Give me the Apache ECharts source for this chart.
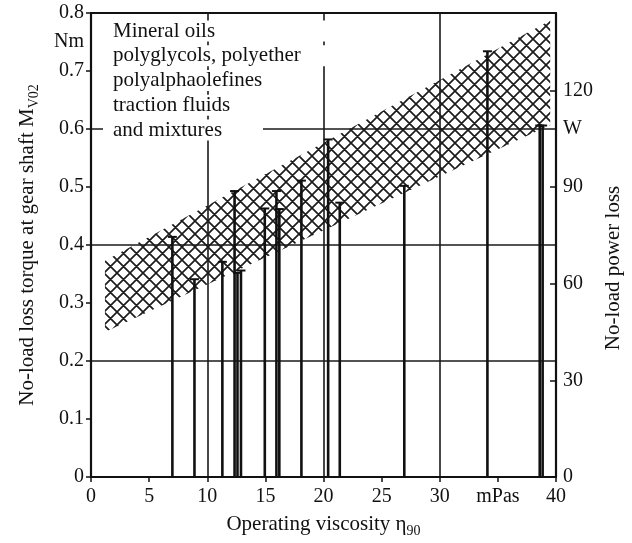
<!DOCTYPE html>
<html><head><meta charset="utf-8">
<script src="https://cdn.jsdelivr.net/npm/echarts@6/dist/echarts.min.js"></script>
<style>html,body{margin:0;padding:0;background:#fff}#c{width:632px;height:543px}</style>
</head><body><div id="c"></div>
<script>
// ---- data ----
const viscosity = [7.0, 8.9, 11.3, 12.35, 12.6, 12.9, 14.95, 15.95, 16.2, 18.1, 20.4, 21.4, 26.95, 34.1, 38.6, 38.85];
const torque    = [0.414, 0.341, 0.371, 0.493, 0.352, 0.356, 0.463, 0.493, 0.462, 0.511, 0.582, 0.473, 0.502, 0.734, 0.606, 0.606];
const bandViscosity = [1.2, 39.5];
const bandLower     = [0.25, 0.607];
const bandUpper     = [0.373, 0.787];
const xTickLabels = ['0', '5', '10', '15', '20', '25', '30', 'mPas', '40'];
const torqueTickLabels = ['0', '0.1', '0.2', '0.3', '0.4', '0.5', '0.6', '0.7', '0.8'];
const powerTickLabels = ['0', '30', '60', '90', '120'];
const fluidLines = ['Mineral oils', 'polyglycols, polyether', 'polyalphaolefines', 'traction fluids', 'and mixtures'];

const FONT = '"Liberation Serif", "Times New Roman", serif';
const INK = '#111';

function hatchCanvas() {
  const s = 13, c = document.createElement('canvas');
  c.width = s; c.height = s;
  const g = c.getContext('2d');
  g.strokeStyle = '#1c1c1c'; g.lineWidth = 1.7;
  g.beginPath();
  for (const o of [-s, 0, s]) {
    g.moveTo(o, 0); g.lineTo(o + s, s);
    g.moveTo(o + s, 0); g.lineTo(o, s);
  }
  g.stroke();
  return c;
}
const hatch = { image: hatchCanvas(), repeat: 'repeat' };

const chart = echarts.init(document.getElementById('c'), null, { renderer: 'canvas' });

const bandData = bandViscosity.slice(0, -1).map((x, i) =>
  [x, bandLower[i], bandUpper[i], bandViscosity[i + 1], bandLower[i + 1], bandUpper[i + 1]]);
const barData = viscosity.map((x, i) => [x, torque[i]]);

const txt = { fontFamily: FONT, fontSize: 20, color: INK };

chart.setOption({
  animation: false,
  backgroundColor: '#fff',
  grid: { left: 91, right: 76, top: 13, bottom: 66, containLabel: false, outerBoundsMode: 'none' },
  xAxis: [
    {
      type: 'value', position: 'bottom', min: 0, max: 40, interval: 5,
      axisLine: { show: true, onZero: false, lineStyle: { color: INK, width: 2 } },
      axisTick: { show: true, inside: false, length: 5, lineStyle: { color: INK, width: 1.5 } },
      axisLabel: Object.assign({ margin: 10, formatter: v => xTickLabels[Math.round(v / 5)] || '' }, txt),
      splitLine: { show: false },
      name: '{n|Operating viscosity η}{s|90}', nameLocation: 'middle', nameGap: 33,
      nameTextStyle: { rich: {
        n: { fontFamily: FONT, fontSize: 21, color: INK, lineHeight: 28 },
        s: { fontFamily: FONT, fontSize: 14, color: INK, lineHeight: 28, verticalAlign: 'bottom' }
      } }
    },
    {
      type: 'value', position: 'top', min: 0, max: 40, interval: 10,
      axisLine: { show: true, onZero: false, lineStyle: { color: INK, width: 2 } },
      axisTick: { show: false }, axisLabel: { show: false },
      splitLine: { show: true, lineStyle: { color: '#1a1a1a', width: 1.6 } }
    }
  ],
  yAxis: [
    {
      type: 'value', position: 'left', min: 0, max: 0.8, interval: 0.1,
      axisLine: { show: true, onZero: false, lineStyle: { color: INK, width: 2.2 } },
      axisTick: { show: true, inside: false, length: 5, lineStyle: { color: INK, width: 1.5 } },
      axisLabel: Object.assign({ margin: 7, formatter: v => torqueTickLabels[Math.round(v / 0.1)] || '' }, txt),
      splitLine: { show: false },
      name: '{n|No-load loss torque at gear shaft M}{s|V02}', nameLocation: 'middle', nameRotate: 90, nameGap: 50,
      nameTextStyle: { rich: {
        n: { fontFamily: FONT, fontSize: 21, color: INK, lineHeight: 28 },
        s: { fontFamily: FONT, fontSize: 14, color: INK, lineHeight: 28, verticalAlign: 'bottom' }
      } }
    },
    {
      type: 'value', position: 'left', min: 0, max: 0.8, interval: 0.2,
      axisLine: { show: false }, axisTick: { show: false }, axisLabel: { show: false },
      splitLine: { show: true, lineStyle: { color: '#1a1a1a', width: 1.6 } }
    },
    {
      type: 'value', position: 'left', min: 0, max: 0.8, interval: 0.75,
      axisLine: { show: false }, axisTick: { show: false }, splitLine: { show: false },
      axisLabel: Object.assign({ margin: 7, formatter: v => Math.abs(v - 0.75) < 1e-6 ? 'Nm' : '' }, txt)
    },
    {
      type: 'value', position: 'right', min: 0, max: 144, interval: 30,
      axisLine: { show: true, onZero: false, lineStyle: { color: INK, width: 2.2 } },
      axisTick: { show: true, inside: true, length: 6, lineStyle: { color: INK, width: 1.5 } },
      axisLabel: Object.assign({ margin: 7, formatter: v => (v % 30 === 0 ? (powerTickLabels[v / 30] || '') : '') }, txt),
      splitLine: { show: false }
    },
    {
      type: 'value', position: 'right', min: 0, max: 0.8, interval: 0.6,
      axisLine: { show: false }, axisTick: { show: false }, splitLine: { show: false },
      axisLabel: Object.assign({ margin: 7, formatter: v => Math.abs(v - 0.6) < 1e-6 ? 'W' : '' }, txt)
    }
  ],
  graphic: [
    {
      type: 'text', left: 103, top: 20.6, z: 100,
      style: {
        text: fluidLines.map((t, i) => '{' + (i < 2 ? 'w' : 'n') + '|' + t + '}').join('\n'),
        rich: {
          w: { width: 217, padding: [0, 0, 0, 10], backgroundColor: '#fff', fontFamily: FONT, fontSize: 21, lineHeight: 24.75, fill: INK },
          n: { width: 150, padding: [0, 0, 0, 10], backgroundColor: '#fff', fontFamily: FONT, fontSize: 21, lineHeight: 24.75, fill: INK }
        }
      }
    },
    {
      type: 'text', x: 613, y: 268, rotation: Math.PI / 2, z: 100,
      style: { text: 'No-load power loss', fontFamily: FONT, fontSize: 21, fill: INK, align: 'center', verticalAlign: 'middle' }
    }
  ],
  series: [
    {
      type: 'custom', name: 'band', xAxisIndex: 0, yAxisIndex: 0, z: 1,
      data: bandData,
      encode: { x: [0, 3], y: [1, 2, 4, 5] },
      renderItem: (params, api) => {
        const a = api.coord([api.value(0), api.value(1)]);
        const b = api.coord([api.value(3), api.value(4)]);
        const c = api.coord([api.value(3), api.value(5)]);
        const d = api.coord([api.value(0), api.value(2)]);
        return { type: 'polygon', shape: { points: [a, b, c, d] }, style: { fill: hatch, stroke: null } };
      }
    },
    {
      type: 'custom', name: 'bars', xAxisIndex: 0, yAxisIndex: 0, z: 5,
      data: barData,
      encode: { x: 0, y: 1 },
      renderItem: (params, api) => {
        const p0 = api.coord([api.value(0), 0]);
        const p1 = api.coord([api.value(0), api.value(1)]);
        return {
          type: 'group', children: [
            { type: 'line', shape: { x1: p0[0], y1: p0[1], x2: p1[0], y2: p1[1] }, style: { stroke: INK, lineWidth: 2.6 } },
            { type: 'line', shape: { x1: p1[0] - 4.5, y1: p1[1], x2: p1[0] + 4.5, y2: p1[1] }, style: { stroke: INK, lineWidth: 2 } }
          ]
        };
      }
    }
  ]
});
</script></body></html>
